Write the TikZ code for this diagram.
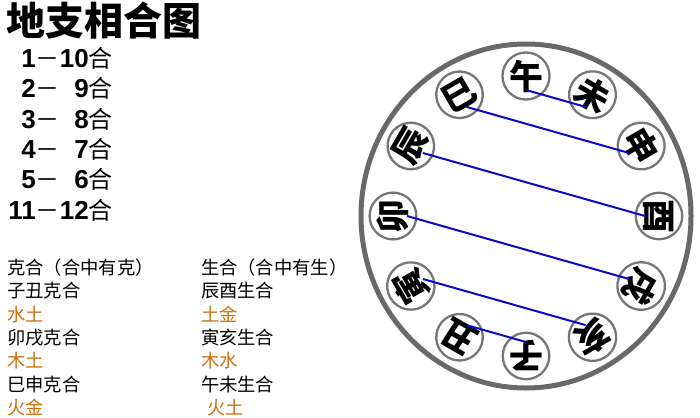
\documentclass[tikz,border=0pt]{standalone}
\usepackage{fontspec}
\setmainfont{Noto Sans CJK SC}
\newfontfamily\latinfont{Liberation Sans}
\usetikzlibrary{positioning}
\definecolor{ringgray}{RGB}{105,105,105}
\definecolor{circgray}{RGB}{118,118,118}
\definecolor{pairblue}{RGB}{10,10,200}
\definecolor{elemorange}{RGB}{205,110,10}
\newcommand{\nb}[1]{{\latinfont\bfseries\fontsize{26}{28}\selectfont #1}}

\begin{document}
\begin{tikzpicture}[x=1pt, y=1pt,
  numrow/.style={font=\fontsize{24}{28}\selectfont, inner sep=0pt, text height=21pt, text depth=9pt},
  listrow/.style={font=\fontsize{18.3}{21}\selectfont, inner sep=0pt, text height=16pt, text depth=7pt, anchor=north west},
  branch/.style={circle, draw=circgray, line width=2.3pt, minimum size=46.5pt, inner sep=0pt,
                 font=\fontsize{34}{34}\selectfont\bfseries},
  pairline/.style={pairblue, line width=2pt}]
  \useasboundingbox (0,0) rectangle (700,-417);

  % title and number pairs
  \node[anchor=base west, inner sep=0pt, font=\fontsize{39}{44}\selectfont\bfseries] (title) at (6,-36) {地支相合图};
  \node[numrow, anchor=north east] (r1) at (113,-46) {\nb{1}－\nb{10}合};
  \node[numrow, below=0pt of r1.south east, anchor=north east] (r2) {\nb{2}－\nb{\phantom{1}9}合};
  \node[numrow, below=0pt of r2.south east, anchor=north east] (r3) {\nb{3}－\nb{\phantom{1}8}合};
  \node[numrow, below=0pt of r3.south east, anchor=north east] (r4) {\nb{4}－\nb{\phantom{1}7}合};
  \node[numrow, below=0pt of r4.south east, anchor=north east] (r5) {\nb{5}－\nb{\phantom{1}6}合};
  \node[numrow, below=0pt of r5.south east, anchor=north east] (r6) {\nb{11}－\nb{12}合};

  % ke he / sheng he lists
  \node[listrow] (ke) at (7,-258) {克合（合中有克）};
  \node[listrow, below=0pt of ke.south west, anchor=north west] (ke1) {子丑克合};
  \node[listrow, below=0pt of ke1.south west, anchor=north west, text=elemorange] (ke1e) {水土};
  \node[listrow, below=0pt of ke1e.south west, anchor=north west] (ke2) {卯戌克合};
  \node[listrow, below=0pt of ke2.south west, anchor=north west, text=elemorange] (ke2e) {木土};
  \node[listrow, below=0pt of ke2e.south west, anchor=north west] (ke3) {巳申克合};
  \node[listrow, below=0pt of ke3.south west, anchor=north west, text=elemorange] (ke3e) {火金};

  \node[listrow, right=47pt of ke] (sheng) {生合（合中有生）};
  \node[listrow, below=0pt of sheng.south west, anchor=north west] (sh1) {辰酉生合};
  \node[listrow, below=0pt of sh1.south west, anchor=north west, text=elemorange] (sh1e) {土金};
  \node[listrow, below=0pt of sh1e.south west, anchor=north west] (sh2) {寅亥生合};
  \node[listrow, below=0pt of sh2.south west, anchor=north west, text=elemorange] (sh2e) {木水};
  \node[listrow, below=0pt of sh2e.south west, anchor=north west] (sh3) {午未生合};
  \node[listrow, below=0pt of sh3.south west, anchor=north west, text=elemorange, xshift=6pt] (sh3e) {火土};

  % wheel of branches
  \coordinate (hub) at (526,-216);
  \draw[ringgray, line width=5pt] (hub) ellipse [x radius=165pt, y radius=172pt];
  \foreach \ang/\name/\ch in {90/wu/午, 60/wei/未, 30/shen/申, 0/you/酉, -30/xu/戌, -60/hai/亥,
                              -90/zi/子, -120/chou/丑, -150/yin/寅, 180/mao/卯, 150/chen/辰, 120/si/巳}{
    \node[branch, rotate=\ang-90] (\name) at ([shift={(\ang:133pt and 140pt)}]hub) {\ch};
    \coordinate (\name-in) at ([shift={(\ang:119pt and 126pt)}]hub);
  }
  \draw[pairline] (wu-in) -- (wei-in);
  \draw[pairline] (si-in) -- (shen-in);
  \draw[pairline] (chen-in) -- (you-in);
  \draw[pairline] (mao-in) -- (xu-in);
  \draw[pairline] (yin-in) -- (hai-in);
  \draw[pairline] (chou-in) -- (zi-in);
\end{tikzpicture}
\end{document}
